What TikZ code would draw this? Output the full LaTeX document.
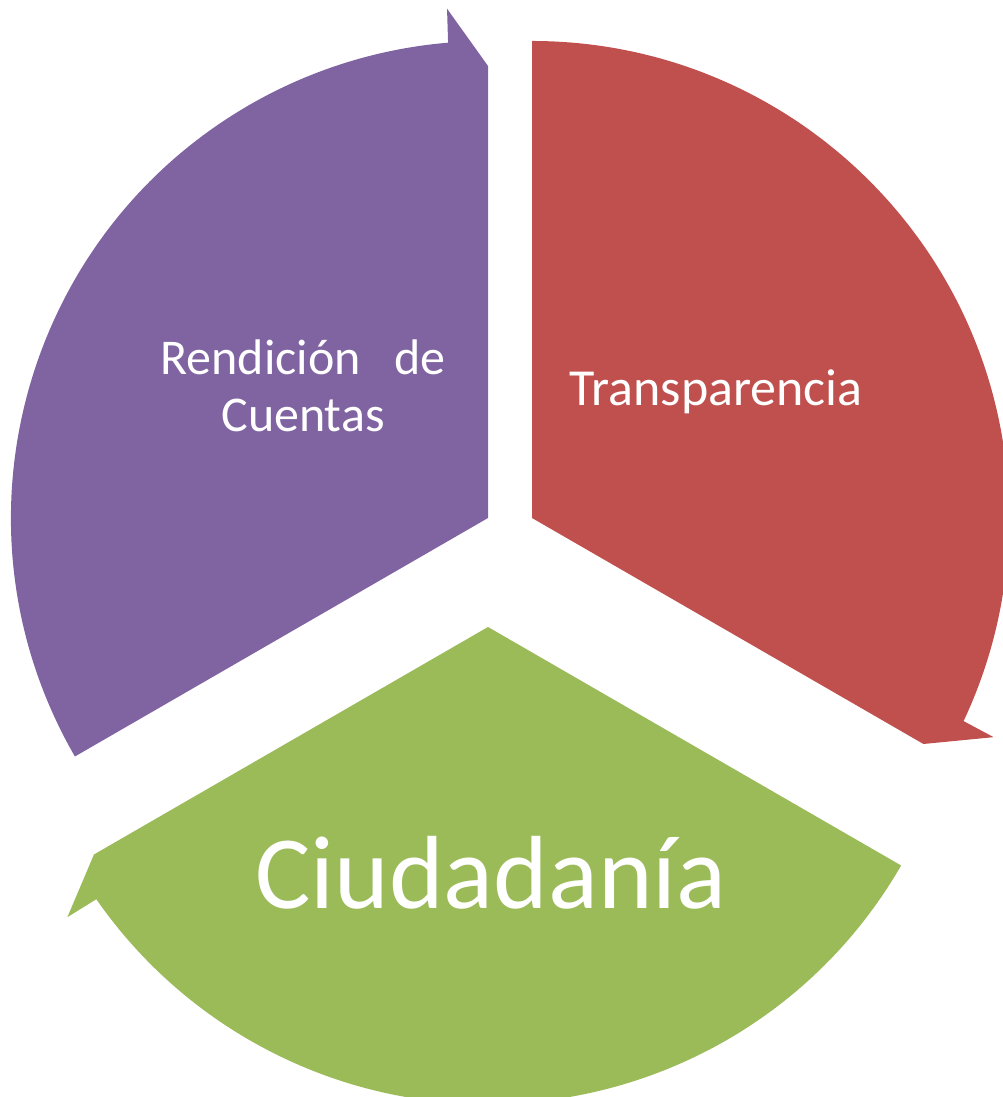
\documentclass[tikz,border=0pt]{standalone}
\usepackage{fontspec}
\setmainfont{Carlito}
\usetikzlibrary{positioning}
\usetikzlibrary{calc}
\definecolor{purp}{HTML}{8064A2}
\definecolor{redd}{HTML}{C0504D}
\definecolor{gren}{HTML}{9BBB59}

\begin{document}
\begin{tikzpicture}[x=1pt, y=1pt,
        lbl/.style={text=white, inner sep=0, font=\fontsize{50}{57}\selectfont},
        biglbl/.style={text=white, inner sep=0, font=\fontsize{104}{120}\selectfont}]
        \useasboundingbox (0,0) rectangle (1002,1097);

        % segments %
        \coordinate (pa) at (488,579);
        \coordinate (ra) at (532,579);
        \coordinate (ga) at (488,470);
        \fill[purp, shift={(pa)}] (0,0) -- (210:477) arc[start angle=210, end angle=94.8, radius=477]
                -- (94.6:511) -- (90:452) -- cycle;
        \fill[redd, shift={(ra)}] (0,0) -- (90:477) arc[start angle=90, end angle=-25.2, radius=477]
                -- (-25.4:511) -- (-30:452) -- cycle;
        \fill[gren, shift={(ga)}] (0,0) -- (-30:477) arc[start angle=-30, end angle=-145.2, radius=477]
                -- (-145.4:511) -- (-150:455) -- cycle;

        % nodes %
        \node[lbl, anchor=base, align=center] (rend) at (303,665) {Rendición\hspace{0.45em} de\\Cuentas};
        \node[lbl, anchor=base, font=\fontsize{52}{57}\selectfont] (trans) at (716,691) {Transparencia};
        \node[biglbl, anchor=base] (ciud) at (491,188) {Ciudadanía};
      \end{tikzpicture}
\end{document}
